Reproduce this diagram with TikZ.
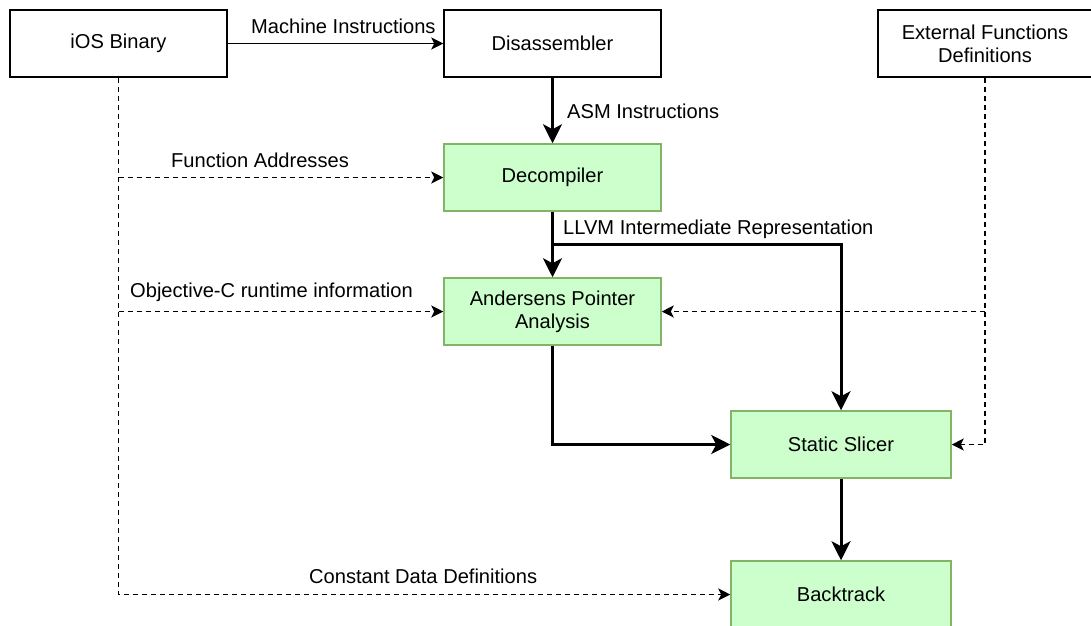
\documentclass[tikz,border=0pt]{standalone}
\usepackage{fontspec}
\setmainfont{Liberation Sans}
\usetikzlibrary{arrows.meta,calc}
\definecolor{procfill}{HTML}{CCFFCC}
\definecolor{procdraw}{HTML}{82B366}
\begin{document}
\begin{tikzpicture}[x=1pt,y=-1pt,
  font=\fontsize{20.1}{23}\selectfont,
  box/.style={draw=black,line width=1.5pt,fill=white,minimum width=217pt,minimum height=67pt,inner sep=0pt,align=center},
  proc/.style={box,draw=procdraw,fill=procfill},
  lbl/.style={inner sep=0pt,anchor=west},
  thinarrow/.style={line width=1.6pt,-{Stealth[length=12pt,width=12pt,inset=3pt]}},
  thickarrow/.style={line width=3pt,-{Stealth[length=19pt,width=19pt,inset=5pt]}},
  dasharrow/.style={line width=1.6pt,dash pattern=on 5pt off 4pt,-{Stealth[length=12pt,width=12pt,inset=3pt]}}
]
\useasboundingbox (0,0) rectangle (1091,625);

% input boxes
\node[box] (ios) at (118.5,43.5) {iOS Binary};
\node[box] (dis) at (552.5,43.5) {Disassembler};
\node[box,minimum width=214pt] (ext) at (985,43.5) {External Functions\\Definitions};

% analysis stages
\node[proc] (dec) at (552.5,177.5) {Decompiler};
\node[proc] (and) at (552.5,311.5) {Andersens Pointer\\Analysis};
\node[proc,minimum width=220pt] (sli) at (841,444.5) {Static Slicer};
\node[proc,minimum width=220pt] (bt) at (841,594.5) {Backtrack};

% junction points
\coordinate (llvm) at ($(dec.south)!0.5!(and.north)$);
\coordinate (fa) at (ios.south |- dec.west);
\coordinate (oc) at (ios.south |- and.west);
\coordinate (cd) at (ios.south |- bt.west);
\coordinate (ef) at (ext.south |- and.east);

% solid data flow
\draw[thinarrow] (ios) -- (dis);
\draw[thickarrow] (dis) -- (dec);
\draw[thickarrow] (dec) -- (and);
\draw[thickarrow] (llvm) -| (sli.north);
\draw[thickarrow] (and.south) |- (sli.west);
\draw[thickarrow] (sli) -- (bt);

% dashed side inputs
\draw[dasharrow] (ios.south) -- (cd) -- (bt.west);
\draw[dasharrow] (fa) -- (dec.west);
\draw[dasharrow] (oc) -- (and.west);
\draw[dasharrow] (ext.south) |- (sli.east);
\draw[dasharrow] (ef) -- (and.east);

% connector labels
\node[lbl] (l1) at (251,26) {Machine Instructions};
\node[lbl] (l2) at (567,111) {ASM Instructions};
\node[lbl] (l3) at (171,160) {Function Addresses};
\node[lbl] (l4) at (563,229) {LLVM Intermediate Representation};
\node[lbl] (l5) at (130,292) {Objective-C runtime information};
\node[lbl] (l6) at (309,576) {Constant Data Definitions};
\end{tikzpicture}
\end{document}
